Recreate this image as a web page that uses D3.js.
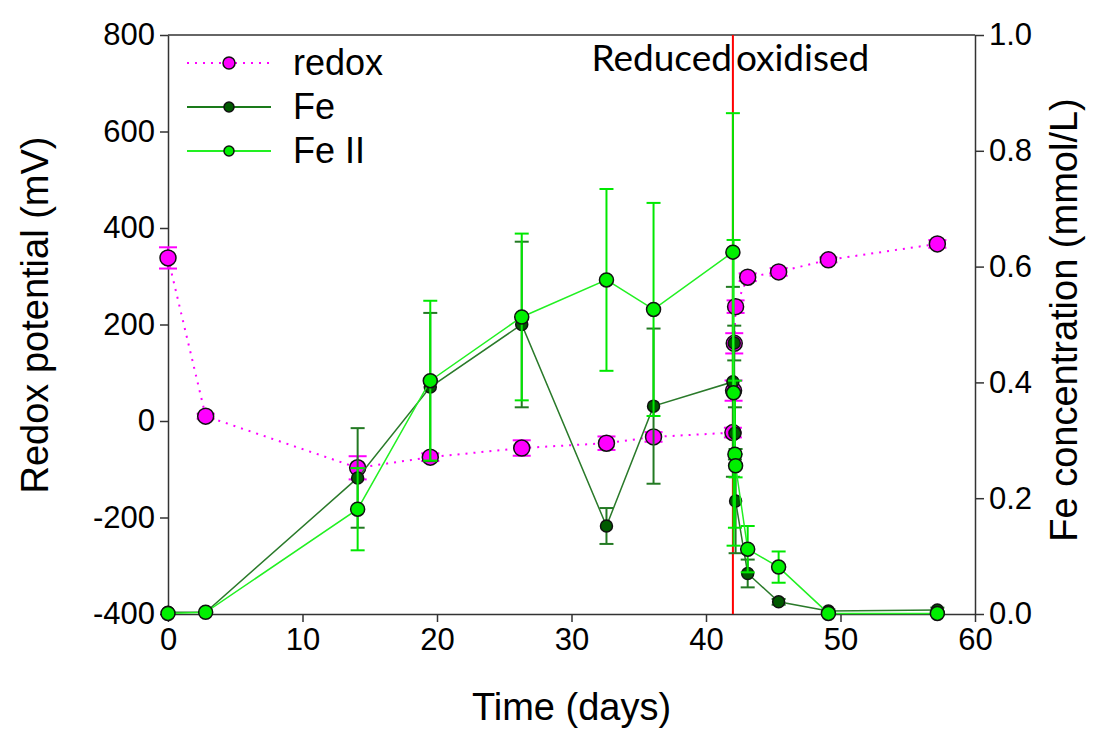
<!DOCTYPE html>
<html>
<head>
<meta charset="utf-8">
<script src="https://cdn.jsdelivr.net/npm/d3@7"></script>
<style>
  body { margin: 0; background: #fff; }
  svg { display: block; }
  text { font-family: "Liberation Sans", Arial, sans-serif; fill: #000; }
</style>
</head>
<body>
<svg id="chart" width="1094" height="729"></svg>
<script>
// time (days) for each series
const redoxDays = [0, 2.8, 14.1, 19.5, 26.3, 32.6, 36.1, 42.0, 42.05, 42.1, 42.2, 43.1, 45.4, 49.1, 57.2];
const redoxMV   = [338, 10, -97, -75, -56, -46, -33, -24, 63, 161, 237, 298, 309, 334, 367];
const redoxErr  = [22, 5, 24, 8, 16, 14, 10, 10, 21, 21, 13, 8, 8, 5, 8];

const feDays = [0, 2.8, 14.1, 19.5, 26.3, 32.6, 36.1, 42.0, 42.1, 42.15, 42.2, 43.1, 45.4, 49.1, 57.2];
const feConc = [0.003, 0.003, 0.235, 0.392, 0.500, 0.152, 0.359, 0.401, 0.468, 0.312, 0.195, 0.070, 0.021, 0.005, 0.007];
const feErr  = [0, 0, 0.086, 0.128, 0.143, 0.031, 0.134, 0.164, 0.03, 0.045, 0.09, 0.024, 0.005, 0.003, 0.004];

const fe2Days = [0, 2.8, 14.1, 19.5, 26.3, 32.6, 36.1, 42.0, 42.05, 42.15, 42.2, 43.1, 45.4, 49.1, 57.2];
const fe2Conc = [0.001, 0.003, 0.181, 0.403, 0.513, 0.577, 0.526, 0.625, 0.382, 0.276, 0.256, 0.112, 0.081, 0.001, 0.001];
const fe2Err  = [0, 0, 0.071, 0.138, 0.144, 0.157, 0.184, 0.24, 0.264, 0.127, 0.02, 0.04, 0.027, 0.003, 0.003];

const xTicks = [0, 10, 20, 30, 40, 50, 60];
const yLeftTicks = [-400, -200, 0, 200, 400, 600, 800];
const yRightTicks = [0, 0.2, 0.4, 0.6, 0.8, 1.0];
const switchDay = 42;

const plotLeft = 168, plotRight = 975, plotTop = 35, plotBottom = 614;

const svg = d3.select("#chart");

const x = d3.scaleLinear().domain([0, 60]).range([plotLeft, plotRight]);
const yL = d3.scaleLinear().domain([-400, 800]).range([plotBottom, plotTop]);
const yR = d3.scaleLinear().domain([0, 1]).range([plotBottom, plotTop]);

// frame
svg.append("line").attr("x1", plotLeft).attr("x2", plotRight).attr("y1", plotTop).attr("y2", plotTop)
  .attr("stroke", "#333").attr("stroke-width", 1.5);

function styleAxis(g) {
  g.select(".domain").attr("stroke", "#333").attr("stroke-width", 1.5);
  g.selectAll(".tick line").attr("stroke", "#333").attr("stroke-width", 1.5);
  g.selectAll(".tick text").style("font-size", "31px").attr("fill", "#000");
}

// plain hyphen minus, like the original
const plain = d => String(d);

svg.append("g").attr("transform", `translate(0,${plotBottom})`)
  .call(d3.axisBottom(x).tickValues(xTicks).tickFormat(plain).tickSize(8).tickPadding(6).tickSizeOuter(0))
  .call(styleAxis);

svg.append("g").attr("transform", `translate(${plotLeft},0)`)
  .call(d3.axisLeft(yL).tickValues(yLeftTicks).tickFormat(plain).tickSize(8).tickPadding(5).tickSizeOuter(0))
  .call(styleAxis);

svg.append("g").attr("transform", `translate(${plotRight},0)`)
  .call(d3.axisRight(yR).tickValues(yRightTicks).tickFormat(d => d.toFixed(1)).tickSize(9).tickPadding(5).tickSizeOuter(0))
  .call(styleAxis);

// axis titles
svg.append("text").attr("x", (plotLeft + plotRight) / 2).attr("y", 720)
  .attr("text-anchor", "middle").style("font-size", "38px").text("Time (days)");
svg.append("text").attr("transform", "translate(48,315) rotate(-90)")
  .attr("text-anchor", "middle").style("font-size", "38px").text("Redox potential (mV)");
svg.append("text").attr("transform", "translate(1077,320) rotate(-90)")
  .attr("text-anchor", "middle").style("font-size", "38px").text("Fe concentration (mmol/L)");

function drawSeries(days, vals, errs, y, opts) {
  const pts = days.map((d, i) => ({ d, v: vals[i], e: errs[i] }));
  const g = svg.append("g");
  // error bars
  pts.filter(p => p.e > 0).forEach(p => {
    const cx = x(p.d), y1 = y(p.v + p.e), y2 = y(p.v - p.e);
    g.append("line").attr("x1", cx).attr("x2", cx).attr("y1", y1).attr("y2", y2)
      .attr("stroke", opts.errColor).attr("stroke-width", 2);
    [y1, y2].forEach(yy => g.append("line").attr("x1", cx - opts.cap).attr("x2", cx + opts.cap)
      .attr("y1", yy).attr("y2", yy).attr("stroke", opts.errColor).attr("stroke-width", 2));
  });
  const line = d3.line().x(p => x(p.d)).y(p => y(p.v));
  g.append("path").datum(pts).attr("d", line).attr("fill", "none")
    .attr("stroke", opts.lineColor).attr("stroke-width", opts.lineWidth)
    .attr("stroke-dasharray", opts.dash || null);
  g.selectAll("circle").data(pts).enter().append("circle")
    .attr("cx", p => x(p.d)).attr("cy", p => y(p.v)).attr("r", opts.r)
    .attr("fill", opts.fill).attr("stroke", "#111").attr("stroke-width", 1.5);
}

drawSeries(redoxDays, redoxMV, redoxErr, yL,
  { errColor: "#ff00ff", cap: 9, lineColor: "#ff00ff", lineWidth: 2, dash: "2,6", r: 8, fill: "#ff00ff" });

// reduced / oxidised switch line
svg.append("line").attr("x1", x(switchDay)).attr("x2", x(switchDay))
  .attr("y1", plotTop).attr("y2", plotBottom).attr("stroke", "#ff0000").attr("stroke-width", 2);

drawSeries(feDays, feConc, feErr, yR,
  { errColor: "#237a23", cap: 7, lineColor: "#2a7a2a", lineWidth: 1.5, r: 6, fill: "#005a00" });
drawSeries(fe2Days, fe2Conc, fe2Err, yR,
  { errColor: "#00e800", cap: 7, lineColor: "#22f022", lineWidth: 1.5, r: 7, fill: "#00f000" });

// legend
const legendItems = [
  { name: "redox", color: "#ff00ff", fill: "#ff00ff", dash: "2,6", r: 6 },
  { name: "Fe", color: "#1a7a1a", fill: "#005a00", dash: null, r: 5 },
  { name: "Fe II", color: "#22f022", fill: "#00f000", dash: null, r: 5 }
];
const lg = svg.append("g");
legendItems.forEach((it, i) => {
  const ly = 63 + i * 44;
  lg.append("line").attr("x1", 187).attr("x2", 271).attr("y1", ly).attr("y2", ly)
    .attr("stroke", it.color).attr("stroke-width", 2).attr("stroke-dasharray", it.dash);
  lg.append("circle").attr("cx", 229).attr("cy", ly).attr("r", it.r)
    .attr("fill", it.fill).attr("stroke", "#111").attr("stroke-width", 1.5);
  lg.append("text").attr("x", 293).attr("y", ly + 12).style("font-size", "36px").text(it.name);
});

// phase labels
svg.append("text").attr("x", x(switchDay) - 1).attr("y", 71).attr("text-anchor", "end")
  .style("font-family", "Lato, 'Open Sans', sans-serif").style("font-size", "37px").text("Reduced");
svg.append("text").attr("x", x(switchDay) + 3).attr("y", 71)
  .style("font-family", "Lato, 'Open Sans', sans-serif").style("font-size", "37px").text("oxidised");
</script>
</body>
</html>
